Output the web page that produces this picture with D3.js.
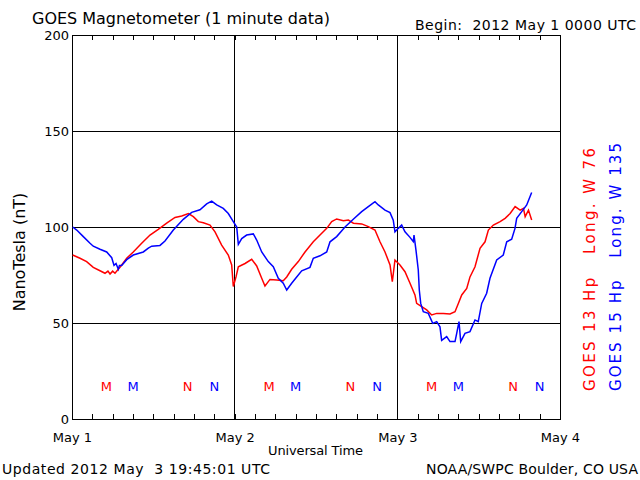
<!DOCTYPE html>
<html><head><meta charset="utf-8">
<script src="https://cdn.jsdelivr.net/npm/d3@7"></script>
<style>
body{margin:0;background:#fff;}
svg{display:block;font-family:"DejaVu Sans",sans-serif;}
text{white-space:pre;}
</style></head>
<body><svg id="c" width="640" height="480"></svg>
<script>
// ---- data (hours since 2012 May 1 00:00 UT, nT) ----
const goes15Hours = [0.1,0.7,1.67,2.66,3.14,4.13,5.12,5.86,6.2,6.5,6.83,7.0,7.33,8.07,9.04,10.52,11.26,11.76,12.98,13.72,14.95,16.42,17.66,18.88,19.87,20.61,21.35,22.32,23.06,23.8,24.3,24.54,25.04,25.77,26.75,27.25,27.99,28.96,29.7,30.44,31.17,31.68,32.41,33.15,33.89,35.11,35.6,36.59,37.58,38.07,39.05,40.28,41.5,42.74,43.72,44.7,45.19,46.18,46.92,47.4,47.65,48.14,48.64,49.13,49.87,50.35,50.46,50.75,51.09,51.24,51.45,51.83,52.57,53.22,53.81,54.29,54.54,55.28,55.77,56.51,56.76,57.1,57.35,57.98,58.72,59.46,59.94,60.45,61.18,61.67,62.66,63.63,64.14,64.87,65.36,65.61,66.35,67.09,67.57,67.82];
const goes15Values = [100,98.4,95,91.5,90,88.4,87,84,80,81,78,80,80,83,85.4,87,89,90,90.4,92.7,98.4,104,107.6,109,112,113.5,111.5,109.7,107,102.8,100,91,94,95.8,96.4,93.2,87,82,79.3,73.3,70.7,67.2,70.7,74,77.2,79,83.7,85,87,92.3,95,100,104,108,110.6,113.2,111.5,108.8,107.5,103.6,97.5,99.3,101,97.5,94.6,92.4,95.8,88,77.6,67.2,60.2,55.9,55,49.8,50.7,48,41,42.9,40.3,40.3,44.6,50.7,40.3,44.6,45.5,51.6,50.7,60.2,65.5,73.3,82.8,85.4,92.3,93.6,99.3,104.5,108,111.5,115.8,118];
const goes13Hours = [0.1,1.18,2.16,3.14,4.13,4.87,5.3,5.61,6.0,6.34,7.08,8.07,9.04,10.28,11.51,12.73,13.97,15.2,16.19,17.17,17.9,18.64,19.38,20.36,21.1,22.08,23.06,23.56,23.8,24.2,24.54,25.53,26.51,27.25,27.99,28.47,29.21,30.2,31.17,31.68,32.41,33.39,34.38,35.6,36.59,37.58,38.32,39.05,40.04,40.78,41.52,42.74,43.72,44.7,45.44,46.18,46.92,47.26,47.65,48.39,49.13,49.87,50.6,50.85,51.59,52.33,53.07,53.81,54.79,55.77,56.51,57.0,57.5,58.24,58.72,59.46,60.2,60.94,61.43,62.17,63.16,63.9,64.64,65.38,66.12,66.61,66.86,67.35,67.82];
const goes13Values = [85.4,83.7,82,79,77.2,75.9,77,75.5,77,75.9,79,83.7,87,91.5,95.8,98.8,102,105,105.7,107,105.4,102.8,102.2,101,97.5,90.6,85.4,80.2,69,74,79.3,81,83.2,79.7,73.3,69.3,72.7,72.4,72,74,78,82,87,92.3,95.8,99.3,102.8,104.2,103.3,103.6,102,101.6,100.2,98.4,92.3,87,80.2,71.5,82.8,80.2,76.7,70.7,64.6,60.2,58.5,56.8,54.2,55,55,54.7,55.9,60.2,64.6,68,74,79.3,88.9,92.3,98.4,101,102.8,104.5,107,110.6,108.8,109.7,105.4,108.8,103.6];
const dayLabels = ["May 1","May 2","May 3","May 4"];
const yTicks = [0,50,100,150,200];
const mRedHours = [5.07,29.07,53.07];
const mBlueHours = [9,33,57];
const nRedHours = [17.07,41.07,65.07];
const nBlueHours = [21,45,69];

const svg = d3.select("#c");
const L=72,R=560,T=35,B=419;
const x = d3.scaleLinear().domain([0,72]).range([L,R]);
const y = d3.scaleLinear().domain([0,200]).range([B,T]);
const RED="#ff0000", BLUE="#0000ff";

// grid
svg.append("g").selectAll("line").data([50,100,150]).join("line")
  .attr("x1",L).attr("x2",R).attr("y1",d=>y(d)).attr("y2",d=>y(d))
  .attr("stroke","#000").attr("shape-rendering","crispEdges");
svg.append("g").selectAll("line").data([24,48]).join("line")
  .attr("y1",T).attr("y2",B).attr("x1",d=>x(d)).attr("x2",d=>x(d))
  .attr("stroke","#000").attr("shape-rendering","crispEdges");

// minor ticks (every 3 h) top and bottom
const minor = d3.range(3,72,3);
const bAx = svg.append("g").attr("transform",`translate(0,${B})`)
  .call(d3.axisBottom(x).tickValues(minor).tickSize(-5).tickFormat(""));
const tAx = svg.append("g").attr("transform",`translate(0,${T})`)
  .call(d3.axisTop(x).tickValues(minor).tickSize(-5).tickFormat(""));
[bAx,tAx].forEach(a=>{a.select(".domain").remove();a.selectAll("line").attr("shape-rendering","crispEdges");});

// x labels
const xl = svg.append("g").attr("transform",`translate(0,${B})`)
  .call(d3.axisBottom(x).tickValues([0,24,48,72]).tickSize(0).tickPadding(14).tickFormat((d,i)=>dayLabels[i]));
xl.select(".domain").remove();
xl.selectAll("text").attr("font-family","DejaVu Sans").attr("font-size",13).attr("fill","#000");

// y labels
const yl = svg.append("g").attr("transform",`translate(${L},0)`)
  .call(d3.axisLeft(y).tickValues(yTicks).tickSize(0).tickPadding(3));
yl.select(".domain").remove();
yl.selectAll("text").attr("font-family","DejaVu Sans").attr("font-size",13).attr("fill","#000");

// frame
svg.append("rect").attr("x",L+0.5).attr("y",T+0.5).attr("width",R-L).attr("height",B-T)
  .attr("fill","none").attr("stroke","#000");

// lines
const line = d3.line().x(d=>x(d[0])).y(d=>y(d[1]));
svg.append("path").datum(goes13Hours.map((h,i)=>[h,goes13Values[i]]))
  .attr("d",line).attr("fill","none").attr("stroke",RED).attr("stroke-width",1.5);
svg.append("path").datum(goes15Hours.map((h,i)=>[h,goes15Values[i]]))
  .attr("d",line).attr("fill","none").attr("stroke",BLUE).attr("stroke-width",1.5);

// M / N markers
const mk = svg.append("g").attr("font-family","DejaVu Sans").attr("font-size",13).attr("text-anchor","middle");
[[mRedHours,"M",RED],[mBlueHours,"M",BLUE],[nRedHours,"N",RED],[nBlueHours,"N",BLUE]].forEach(([hs,t,c])=>{
  mk.selectAll(null).data(hs).join("text").attr("x",d=>x(d)).attr("y",391).attr("fill",c).text(t);
});

// texts
svg.append("text").attr("x",32).attr("y",24).attr("font-size",16).attr("textLength",298).text("GOES Magnetometer (1 minute data)");
svg.append("text").attr("x",415).attr("y",30).attr("font-size",14).attr("textLength",221).text("Begin:  2012 May 1 0000 UTC");
svg.append("text").attr("x",268).attr("y",455).attr("font-size",13).attr("textLength",95).text("Universal Time");
svg.append("text").attr("x",2).attr("y",474).attr("font-size",14).attr("textLength",268).text("Updated 2012 May  3 19:45:01 UTC");
svg.append("text").attr("x",426).attr("y",474).attr("font-size",14).attr("textLength",212).text("NOAA/SWPC Boulder, CO USA");
svg.append("text").attr("transform","translate(25,252) rotate(-90)").attr("font-size",16).attr("text-anchor","middle").text("NanoTesla (nT)");
svg.append("text").attr("transform","translate(595,391) rotate(-90)").attr("font-size",15).attr("fill",RED).attr("textLength",243).text("GOES 13 Hp   Long. W 76");
svg.append("text").attr("transform","translate(621,391) rotate(-90)").attr("font-size",15).attr("fill",BLUE).attr("textLength",248).text("GOES 15 Hp   Long. W 135");
</script></body></html>
